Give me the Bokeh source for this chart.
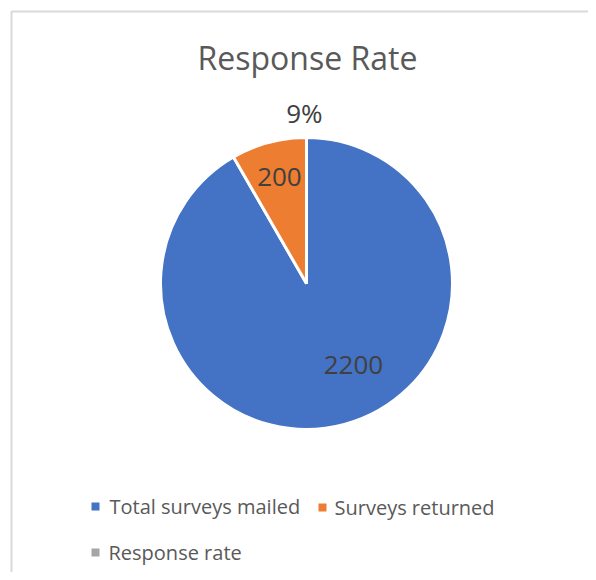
import math
from bokeh.plotting import figure
from bokeh.models import Range1d, ColumnDataSource
from bokeh.core.properties import value
from bokeh.embed import file_html
from bokeh.resources import INLINE

# ---- data ----
categories = ["Total surveys mailed", "Surveys returned", "Response rate"]
values = [2200, 200, 0.09]
labels = ["2200", "200", "9%"]
colors = ["#4472C4", "#ED7D31", "#A5A5A5"]
title_text = "Response Rate"

# ---- layout (pixel-like coordinates: x = px from left, y = px from bottom) ----
W, H = 588, 572
FONT = "Open Sans"

def Y(img_y):
    return H - img_y

cx, cy, r = 306, Y(283), 146
label_angle_offset = [-14.8, 0.7, -0.7]   # degrees, clockwise
label_r_frac = [0.647, 0.75, 1.17]

p = figure(width=W, height=H, output_backend="svg", toolbar_location=None,
           x_range=Range1d(0, W), y_range=Range1d(0, H),
           min_border=0, outline_line_color=None, background_fill_color="white")
p.axis.visible = False
p.grid.visible = False

# chart border (light gray, extends beyond the visible area right/bottom)
p.line(x=[11, 11, 620], y=[Y(620), Y(11), Y(11)], line_color="#D9D9D9", line_width=2)

# pie wedges: first slice starts at 12 o'clock, running clockwise
total = sum(values)
starts, ends, mids = [], [], []
cum = 0.0
for v in values:
    a0 = cum / total * 2 * math.pi
    cum += v
    a1 = cum / total * 2 * math.pi
    starts.append(math.pi / 2 - a1)
    ends.append(math.pi / 2 - a0)
    mids.append((a0 + a1) / 2)

src = ColumnDataSource(dict(start=starts, end=ends, color=colors))
p.wedge(x=cx, y=cy, radius=r, start_angle="start", end_angle="end",
        fill_color="color", line_color="white", line_width=3, source=src)

# data labels
lx, ly = [], []
for m, off, f in zip(mids, label_angle_offset, label_r_frac):
    a = m + math.radians(off)
    lx.append(cx + f * r * math.sin(a))
    ly.append(cy + f * r * math.cos(a))
p.text(x=lx, y=ly, text=labels, text_font=value(FONT), text_font_size="26px",
       text_color="#404040", text_align="center", text_baseline="middle")

# title
p.text(x=[307], y=[Y(57)], text=[title_text], text_font=value(FONT),
       text_font_size="32px", text_color="#595959", text_align="center",
       text_baseline="middle")

# legend (manual, two rows like Excel)
leg_sq_x = [95, 322, 95]
leg_sq_y = [Y(506), Y(507), Y(552)]
leg_tx_x = [109, 334, 108]
p.scatter(x=leg_sq_x, y=leg_sq_y, marker="square", size=8, fill_color=colors,
          line_color=None)
p.text(x=leg_tx_x, y=leg_sq_y, text=categories, text_font=value(FONT),
       text_font_size="20px", text_color="#595959", text_align="left",
       text_baseline="middle")

open("out.html", "w").write(file_html(p, INLINE))
